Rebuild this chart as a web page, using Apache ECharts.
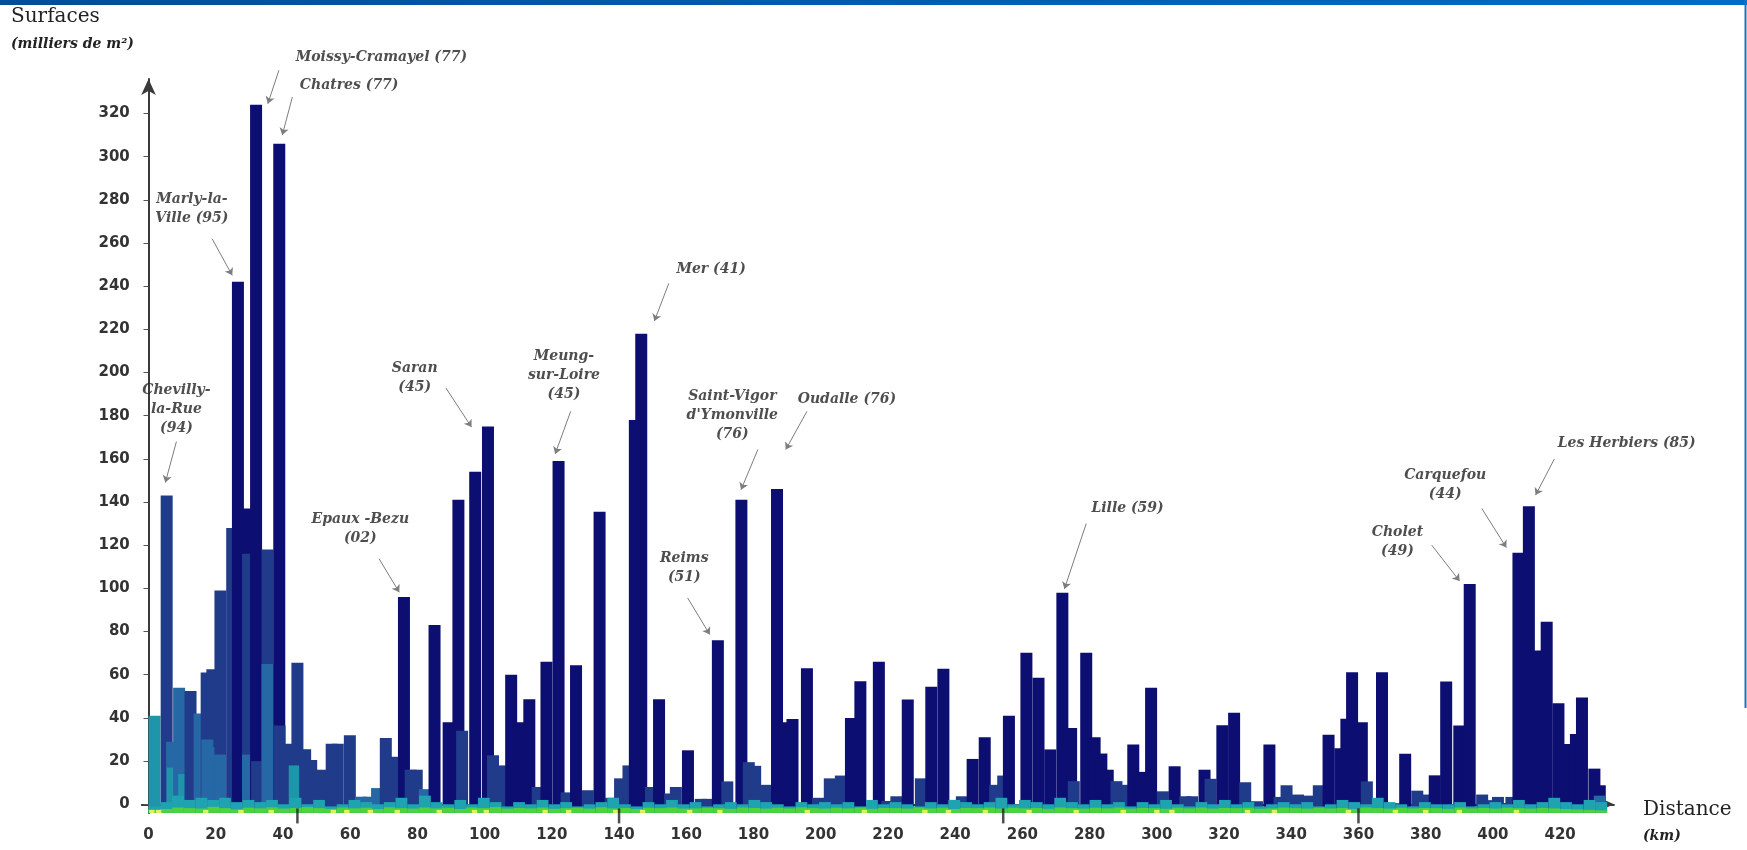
<!DOCTYPE html>
<html>
<head>
<meta charset="utf-8">
<script src="https://cdn.jsdelivr.net/npm/echarts@6.0.0/dist/echarts.min.js"></script>
<style>
html,body{margin:0;padding:0;background:#fff;}
#chart{width:1747px;height:850px;}
</style>
</head>
<body>
<div id="chart"></div>
<script>
// ---------------- DATA ----------------
// Main bars, in drawing order (later bars are drawn in front): distance (km), surface (milliers m2), colour class
// class: 0 = navy, 1 = dark blue, 2 = steel blue, 3 = teal
const barKm = [
  1.8, 5.4, 7.0, 7.2, 9.1, 10.6, 12.5, 15.2, 17.3, 19.0, 17.5, 19.2, 21.4, 21.3, 24.9, 26.6, 29.8, 29.6, 29.6, 32.0,
  32.3, 35.4, 35.4, 38.9, 39.0, 41.8, 44.3, 43.5, 46.6, 48.4, 51.3, 54.5, 56.3, 59.9, 63.2, 65.5, 68.0, 70.6, 72.8, 76.0,
  78.0, 79.8, 82.2, 85.1, 89.3, 92.2, 93.3, 97.2, 101.0, 102.5, 105.0, 107.9, 110.3, 113.3, 115.8, 118.4, 122.0, 124.4, 127.2, 130.7,
  134.2, 137.5, 140.3, 142.8, 144.7, 146.6, 149.5, 151.9, 155.2, 156.9, 160.5, 164.3, 166.5, 169.4, 172.2, 176.4, 178.6, 180.5, 183.8, 187.0,
  189.4, 191.6, 195.9, 199.2, 202.7, 206.0, 209.0, 211.8, 217.3, 219.8, 222.5, 225.9, 229.8, 232.9, 236.5, 239.6, 242.0, 245.2, 248.8, 251.9,
  254.3, 256.0, 261.2, 264.8, 268.3, 271.9, 274.5, 275.3, 279.0, 281.5, 283.5, 285.4, 288.0, 290.5, 293.0, 295.5, 298.3, 301.8, 305.3, 308.5,
  310.5, 314.2, 316.0, 319.5, 323.0, 326.3, 329.8, 333.5, 336.5, 338.6, 342.0, 345.0, 348.2, 351.1, 354.6, 356.4, 358.1, 361.0, 362.5, 367.0,
  370.5, 373.9, 377.5, 379.8, 382.7, 386.1, 390.0, 393.1, 396.8, 398.8, 401.5, 403.8, 405.5, 407.6, 410.7, 413.2, 416.0, 419.5, 422.9, 424.7,
  426.5, 430.2, 431.8, 431.8
];
const barVal = [
  41, 143, 29, 17, 54, 14, 52.5, 42, 61, 62.5, 30, 26.5, 99, 23, 128, 242, 137, 116, 23, 324,
  20, 118, 65, 306, 36.5, 28, 65.5, 18, 25.5, 20.5, 16, 28, 28, 32, 3.5, 3.5, 7.5, 30.7, 22, 96,
  16, 16, 7, 83, 38, 141, 34, 154, 175, 22.7, 18, 60, 38, 48.6, 8, 66, 159, 5.5, 64.4, 6.5,
  135.5, 3, 12, 18, 178, 218, 8, 48.6, 5, 8, 25, 2.5, 2.5, 76, 10.6, 141, 19.5, 17.8, 9, 146,
  38, 39.5, 63, 3, 12, 13.3, 40, 57, 66, 1.5, 3.7, 48.5, 12, 54.4, 62.8, 2, 3.7, 21, 31, 9,
  13.3, 41, 70.2, 58.6, 25.4, 98, 35.3, 10.7, 70.2, 31, 23.5, 16, 10.7, 9, 27.7, 15, 54, 6, 17.6, 3.7,
  3.7, 16, 11.8, 36.6, 42.4, 10.2, 1.4, 27.7, 3.4, 8.8, 4.5, 4, 8.8, 32.2, 26, 39.6, 61.2, 38, 10.6, 61.2,
  0.5, 23.4, 6.3, 4.5, 13.4, 56.9, 36.5, 102, 4.5, 1.9, 3.4, 0.6, 3.4, 116.5, 138, 71.2, 84.6, 46.8, 27.9, 32.5,
  49.5, 16.5, 8.8, 4
];
const barCls = [
  3, 1, 2, 3, 2, 3, 1, 2, 1, 1, 2, 2, 1, 2, 1, 0, 0, 1, 2, 0,
  1, 1, 2, 0, 1, 1, 1, 3, 1, 1, 1, 1, 1, 1, 2, 2, 2, 1, 1, 0,
  1, 1, 2, 0, 0, 0, 1, 0, 0, 1, 1, 0, 0, 0, 1, 0, 0, 1, 0, 1,
  0, 1, 1, 1, 0, 0, 1, 0, 1, 1, 0, 1, 1, 0, 1, 0, 1, 1, 1, 0,
  0, 0, 0, 1, 1, 1, 0, 0, 0, 1, 1, 0, 1, 0, 0, 1, 1, 0, 0, 1,
  1, 0, 0, 0, 0, 0, 0, 1, 0, 0, 0, 0, 1, 1, 0, 0, 0, 1, 0, 1,
  1, 0, 1, 0, 0, 1, 1, 0, 1, 1, 1, 1, 1, 0, 0, 0, 0, 0, 1, 0,
  1, 0, 1, 1, 0, 0, 0, 0, 1, 1, 1, 1, 1, 0, 0, 0, 0, 0, 0, 0,
  0, 0, 0, 2
];

// Small warehouses along the road, per 3.5 km bin (first bin centred at 1.75 km)
const stripBinKm = 3.5;
const stripTeal = [
  -1, 1, 4, 2, 3, 2, 3, 1, 2, 1, 2, 0, 3, 0, 2, -1, 0, 2, 1, 0, 1, 3, 0, 4,
  1, 0, 2, 0, 3, 1, -1, 1, 0, 2, 0, 1, -1, 0, 1, 3, 0, -1, 1, 0, 2, 0, 1, -1, 0, 1, 0, 2, 1, 0, -1, 1, 0, 1,
  0, 1, -1, 2, 0, 1, 0, -1, 1, 0, 2, 1, 0, 1, 3, 0, 2, 1, 0, 3, 1, 0, 2, 0, 1, -1, 1, 0, 2,
  0, -1, 1, 0, 2, 0, 1, -1, 0, 1, 0, 1, -1, 0, 2, 1, 0, 3, 1, 0, -1, 1, 0, 0, 1, -1, 0, 1, 0, 2, 0, 1, 3, 1, 0, 2, 1
];
const stripGreen = [
  -2.6, -2.2, -1.5, -1.8, -2.0, -1.2, -1.8, -2.4, -1.6, -1.9, -1.4, -2.0, -1.7, -1.3, -1.8, -2.1, -1.5, -1.9, -1.6, -2.2,
  -1.4, -1.8, -2.0, -1.5, -1.9, -1.6, -2.2, -1.5, -1.8, -1.3, -2.0, -1.7, -1.9, -1.5, -2.1, -1.8, -1.6, -2.0, -1.4, -1.9,
  -1.7, -2.2, -1.6, -1.8, -1.5, -2.0, -1.9, -1.6, -1.8, -2.1, -1.5, -1.7, -2.0, -1.6, -1.9, -1.4, -1.8, -2.0, -1.6, -1.9,
  -1.5, -2.1, -1.7, -1.8, -2.0, -1.5, -1.9, -1.6, -2.2, -1.7, -1.8, -1.5, -2.0, -1.6, -1.9, -1.7, -2.1, -1.5, -1.8, -2.0,
  -1.6, -1.9, -1.5, -2.0, -1.7, -1.8, -2.1, -1.6, -1.9, -1.5, -2.0, -1.7, -1.8, -1.6, -2.1, -1.9, -1.5, -1.8, -2.0, -1.6,
  -1.9, -1.7, -2.2, -1.5, -1.8, -2.0, -1.6, -1.9, -1.7, -1.8, -2.1, -1.5, -1.9, -1.7, -2.0, -1.6, -1.8, -2.0, -1.7, -1.9,
  -2.2, -2.4, -2.6, -2.8
];
const yellowSpotKm = [
  1, 3, 17, 27.5, 36.5, 55, 59, 66, 74, 86.5, 97, 100.5, 118, 125, 139, 147, 161, 170, 196, 213,
  231, 238, 249, 262, 276, 290, 300, 304.5, 327, 335, 357, 371, 380, 390, 407
];
const yellowSpotVal = -2.6;

// Motorway junction marks on the distance axis (km)
const junctionKm = [44.3, 140, 254.3, 360];

// Axis ticks
const xTicks = [0, 20, 40, 60, 80, 100, 120, 140, 160, 180, 200, 220, 240, 260, 280, 300, 320, 340, 360, 380, 400, 420];
const yTicks = [0, 20, 40, 60, 80, 100, 120, 140, 160, 180, 200, 220, 240, 260, 280, 300, 320];

// Annotations: label text, label position [km, value], arrow start, arrow end
const annText = [
  'Chevilly-\nla-Rue\n(94)', 'Marly-la-\nVille (95)', 'Moissy-Cramayel (77)', 'Chatres (77)', 'Saran\n(45)',
  'Epaux -Bezu\n(02)', 'Meung-\nsur-Loire\n(45)', 'Mer (41)', 'Reims\n(51)', "Saint-Vigor\nd'Ymonville\n(76)",
  'Oudalle (76)', 'Lille (59)', 'Cholet\n(49)', 'Carquefou\n(44)', 'Les Herbiers (85)'
];
const annPos = [
  [8.3, 183], [12.9, 276], [69.3, 346], [59.7, 333], [79.2, 197.5],
  [63.0, 127.5], [123.6, 198.5], [167.4, 248], [159.4, 109.5], [173.7, 180],
  [207.8, 187.6], [291.3, 137], [371.6, 121.4], [385.8, 147.8], [439.8, 167]
];
const annFrom = [
  [8.3, 168], [18.9, 262], [38.8, 340], [42.8, 327.6], [88.5, 192.8],
  [68.6, 113.7], [125.6, 182], [154.8, 241.3], [160.4, 95.6], [181.3, 164.3],
  [195.9, 182], [279.0, 130], [381.8, 120], [396.7, 137], [418.3, 160]
];
const annTo = [
  [5.0, 149], [24.9, 245], [35.5, 324.5], [39.8, 310], [96.1, 174.7],
  [74.6, 98.2], [121.0, 162.3], [150.5, 223.8], [167.0, 78.6], [176.3, 145.7],
  [189.6, 164.3], [272.5, 99.7], [390.1, 103.4], [404.0, 118.9], [412.7, 143.2]
];

// ---------------- STYLE ----------------
const CLASS_COLORS = ['#0c0e71', '#213b8b', '#2668a5', '#1e95a9'];
const BAR_W = 3.57;       // km
const X_MIN = -2, X_MAX = 436, Y_MIN = -4, Y_MAX = 336;

function rectItem(api, x, v, w, fill) {
  const p0 = api.coord([x - w / 2, v]);
  const p1 = api.coord([x + w / 2, Y_MIN]);
  return {
    type: 'rect',
    shape: { x: p0[0], y: p0[1], width: p1[0] - p0[0], height: p1[1] - p0[1] },
    style: { fill: fill }
  };
}

const mainData = barKm.map((k, i) => [k, barVal[i], barCls[i]]);
const tealData = stripTeal.map((v, i) => [stripBinKm / 2 + i * stripBinKm, v]);
const greenData = stripGreen.map((v, i) => [stripBinKm / 2 + i * stripBinKm, v]);
const yellowData = yellowSpotKm.map(k => [k, yellowSpotVal]);

const chart = echarts.init(document.getElementById('chart'), null, { renderer: 'canvas' });

const labelFont = { fontFamily: 'DejaVu Sans', fontSize: 15, fontWeight: 'bold', color: '#333' };

chart.setOption({
  animation: false,
  backgroundColor: '#ffffff',
  grid: { left: 141.8, right: 133.1, top: 78.9, bottom: 37.1 },
  xAxis: {
    type: 'value', min: X_MIN, max: X_MAX,
    axisLine: { show: true, symbol: ['none', 'arrow'], symbolSize: [11, 16], lineStyle: { color: '#3a3a3a', width: 2 } },
    axisTick: { show: true, customValues: xTicks, length: 6, lineStyle: { color: '#555', width: 1 } },
    axisLabel: Object.assign({ customValues: xTicks, margin: 15 }, labelFont),
    splitLine: { show: false }
  },
  yAxis: {
    type: 'value', min: Y_MIN, max: Y_MAX,
    axisLine: { show: true, symbol: ['none', 'arrow'], symbolSize: [11, 16], lineStyle: { color: '#3a3a3a', width: 2 } },
    axisTick: { show: true, customValues: yTicks, length: 5, lineStyle: { color: '#555', width: 1 } },
    axisLabel: Object.assign({ customValues: yTicks, margin: 12 }, labelFont),
    splitLine: { show: false }
  },
  series: [
    {
      name: 'Entrepôts', type: 'custom', data: mainData, clip: true,
      renderItem: (params, api) => rectItem(api, api.value(0), api.value(1), BAR_W, CLASS_COLORS[api.value(2)])
    },
    {
      name: 'Petits (bleu-vert)', type: 'custom', data: tealData, clip: true,
      renderItem: (params, api) => rectItem(api, api.value(0), api.value(1), stripBinKm, '#1fa3b0')
    },
    {
      name: 'Petits (vert)', type: 'custom', data: greenData, clip: true,
      renderItem: (params, api) => rectItem(api, api.value(0), api.value(1), stripBinKm, '#4fd23b')
    },
    {
      name: 'Petits (jaune)', type: 'custom', data: yellowData, clip: true,
      renderItem: (params, api) => rectItem(api, api.value(0), api.value(1), 1.6, '#dff35e')
    },
    {
      name: 'Échangeurs', type: 'scatter', data: junctionKm.map(k => [k, Y_MIN]),
      symbol: 'rect', symbolSize: [2.5, 15], symbolOffset: [0, 3],
      itemStyle: { color: '#222' }, silent: true, clip: false, z: 5
    },
    {
      name: 'Flèches', type: 'lines', coordinateSystem: 'cartesian2d', clip: false,
      data: annFrom.map((f, i) => ({ coords: [f, annTo[i]] })),
      symbol: ['none', 'arrow'], symbolSize: 7,
      lineStyle: { color: '#7d7d7d', width: 1, opacity: 1, curveness: 0 },
      silent: true, z: 6
    },
    {
      name: 'Étiquettes', type: 'scatter',
      data: annPos.map((p, i) => [p[0], p[1], annText[i]]),
      symbolSize: 0, clip: false, silent: true, z: 7,
      label: {
        show: true, position: 'inside', formatter: p => p.data[2],
        fontFamily: 'DejaVu Serif', fontStyle: 'italic', fontWeight: 'bold', fontSize: 14, lineHeight: 19,
        color: '#222', align: 'center', verticalAlign: 'middle'
      }
    }
  ],
  graphic: [
    { type: 'rect', left: 0, top: 0, shape: { width: 1747, height: 5 },
      style: { fill: new echarts.graphic.LinearGradient(0, 0, 1, 0, [{ offset: 0, color: '#004e99' }, { offset: 1, color: '#006cc4' }]) } },
    { type: 'rect', left: 1744.5, top: 0, shape: { width: 2, height: 708 }, style: { fill: '#1a72c6' } },
    { type: 'text', left: 11, top: 7, style: { text: 'Surfaces', fontFamily: 'DejaVu Serif', fontSize: 20, fill: '#222' } },
    { type: 'text', left: 11, top: 37, style: { text: '(milliers de m²)', fontFamily: 'DejaVu Serif', fontStyle: 'italic', fontWeight: 'bold', fontSize: 14, fill: '#222' } },
    { type: 'text', left: 1643, top: 800, style: { text: 'Distance', fontFamily: 'DejaVu Serif', fontSize: 20, fill: '#222' } },
    { type: 'text', left: 1643, top: 829, style: { text: '(km)', fontFamily: 'DejaVu Serif', fontStyle: 'italic', fontWeight: 'bold', fontSize: 14, fill: '#222' } }
  ]
});
</script>
</body>
</html>
